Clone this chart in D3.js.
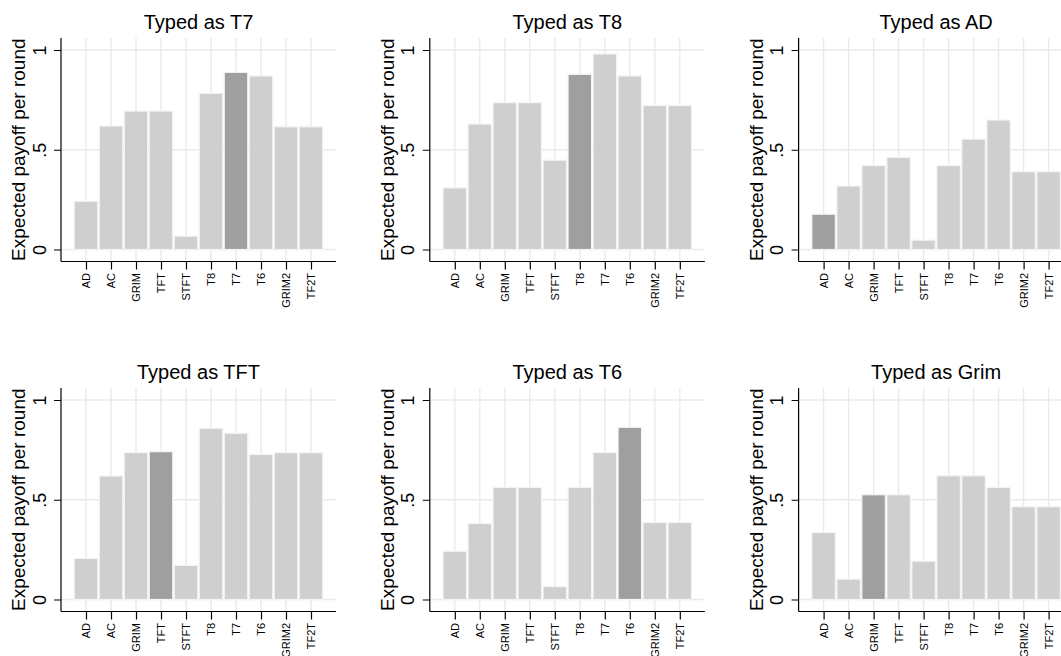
<!DOCTYPE html>
<html>
<head>
<meta charset="utf-8">
<script src="https://cdn.jsdelivr.net/npm/d3@7"></script>
<style>
    body { margin: 0; background: #fff; }
    svg { display: block; font-family: "Liberation Sans", Arial, Helvetica, sans-serif; }
</style>
</head>
<body>
<svg id="chart"></svg>
<script>
// categories on the x axis (same in every panel)
let strategies = ["AD", "AC", "GRIM", "TFT", "STFT", "T8", "T7", "T6", "GRIM2", "TF2T"];

// one panel per typed strategy
let panelTitles = ["Typed as T7", "Typed as T8", "Typed as AD", "Typed as TFT", "Typed as T6", "Typed as Grim"];
let highlighted = ["T7", "T8", "AD", "TFT", "T6", "GRIM"];

// expected payoff per round
let payoffT7   = [0.242, 0.619, 0.694, 0.694, 0.067, 0.783, 0.888, 0.870, 0.615, 0.615];
let payoffT8   = [0.309, 0.629, 0.736, 0.736, 0.448, 0.878, 0.980, 0.870, 0.722, 0.722];
let payoffAD   = [0.177, 0.318, 0.421, 0.462, 0.047, 0.421, 0.553, 0.649, 0.390, 0.390];
let payoffTFT  = [0.206, 0.619, 0.736, 0.741, 0.171, 0.858, 0.833, 0.727, 0.736, 0.736];
let payoffT6   = [0.242, 0.381, 0.562, 0.562, 0.065, 0.562, 0.737, 0.863, 0.386, 0.386];
let payoffGrim = [0.336, 0.102, 0.525, 0.525, 0.192, 0.620, 0.620, 0.562, 0.465, 0.465];

let yTicks = [0, 0.5, 1];
let yTickLabels = ["0", ".5", "1"];
let yTitle = "Expected payoff per round";

let series = [payoffT7, payoffT8, payoffAD, payoffTFT, payoffT6, payoffGrim];

let width = 1061,
    height = 656,
    colStep = 368.8,
    rowStep = 350,
    left = 61,
    plotTop = 38,
    plotBottom = 261.5,
    plotWidth = 275,
    barWidth = 23.5,
    gridColor = "#eaeaea",
    barColor = "#cfcfcf",
    hiColor = "#9f9f9f";

let svg = d3.select("#chart").attr("width", width).attr("height", height);

let xScale = d3.scaleLinear([0, strategies.length + 1], [0, plotWidth]),
    yScale = d3.scaleLinear([0, 1], [249.5, 50]);

series.forEach(function(values, p){
    let col = p % 3, row = Math.floor(p / 3);
    let g = svg.append("g")
        .attr("transform", "translate(" + (left + col * colStep) + "," + (row * rowStep) + ")");

    // grid
    g.selectAll(".hgrid")
        .data(yTicks)
        .enter()
        .append("line")
        .attr("x1", 0).attr("x2", plotWidth)
        .attr("y1", function(d){ return yScale(d); })
        .attr("y2", function(d){ return yScale(d); })
        .attr("stroke", gridColor).attr("stroke-width", 1.4);
    g.selectAll(".vgrid")
        .data(strategies)
        .enter()
        .append("line")
        .attr("x1", function(d, i){ return xScale(i + 1); })
        .attr("x2", function(d, i){ return xScale(i + 1); })
        .attr("y1", plotTop).attr("y2", plotBottom)
        .attr("stroke", gridColor).attr("stroke-width", 1.4);

    // bars
    g.selectAll(".bar")
        .data(values)
        .enter()
        .append("rect")
        .attr("class", "bar")
        .attr("x", function(d, i){ return xScale(i + 1) - barWidth / 2; })
        .attr("width", barWidth)
        .attr("y", function(d){ return yScale(d); })
        .attr("height", function(d){ return yScale(0) - yScale(d); })
        .attr("fill", function(d, i){ return strategies[i] === highlighted[p] ? hiColor : barColor; })
        .attr("stroke", "#f4f4f4")
        .attr("stroke-width", 1.2);

    // y axis
    let yAxis = d3.axisLeft(yScale)
        .tickValues(yTicks)
        .tickFormat(function(d, i){ return yTickLabels[i]; })
        .tickSize(7)
        .tickSizeOuter(0);
    let ya = g.append("g").call(yAxis);
    ya.select(".domain").remove();
    ya.selectAll("text")
        .attr("x", null).attr("dy", null)
        .attr("text-anchor", "middle")
        .attr("transform", "translate(-15.5,0) rotate(-90)")
        .attr("font-size", 18)
        .attr("font-family", null)
        .attr("fill", "#000");
    g.append("line")
        .attr("x1", 0).attr("x2", 0)
        .attr("y1", plotTop).attr("y2", plotBottom)
        .attr("stroke", "#000").attr("stroke-width", 1.2);

    // x axis
    let xAxis = d3.axisBottom(xScale)
        .tickValues(d3.range(1, strategies.length + 1))
        .tickFormat(function(d){ return strategies[d - 1]; })
        .tickSize(8)
        .tickSizeOuter(0);
    let xa = g.append("g")
        .attr("transform", "translate(0," + plotBottom + ")")
        .call(xAxis);
    xa.select(".domain").remove();
    xa.selectAll("text")
        .attr("y", null).attr("dy", "0.36em")
        .attr("x", -11.5)
        .attr("text-anchor", "end")
        .attr("transform", "rotate(-90)")
        .attr("font-size", 11)
        .attr("font-family", null)
        .attr("fill", "#000");
    xa.selectAll(".tick line").attr("stroke-width", 1.2);
    g.append("line")
        .attr("x1", 0).attr("x2", plotWidth)
        .attr("y1", plotBottom).attr("y2", plotBottom)
        .attr("stroke", "#000").attr("stroke-width", 1.2);

    // titles
    g.append("text")
        .attr("x", plotWidth / 2)
        .attr("y", 29)
        .attr("text-anchor", "middle")
        .attr("font-size", 20)
        .text(panelTitles[p]);
    g.append("text")
        .attr("transform", "translate(-36," + ((plotTop + plotBottom) / 2) + ") rotate(-90)")
        .attr("text-anchor", "middle")
        .attr("font-size", 19)
        .text(yTitle);
});
</script>
</body>
</html>
